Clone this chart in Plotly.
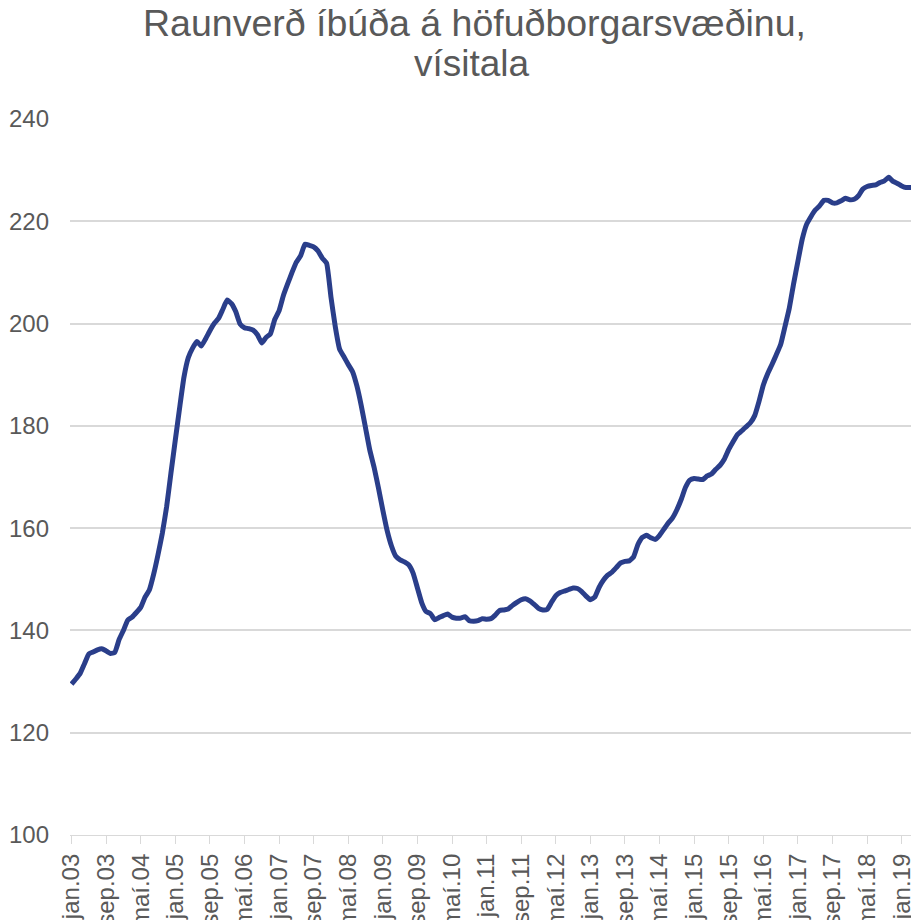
import plotly.graph_objects as go

month_names = ["jan", "feb", "mar", "apr", "maí", "jún", "júl", "ágú", "sep", "okt", "nóv", "des"]
start_year = 2003
n_months = 197

values = [
    # 2003
    129.5, 130.5, 131.6, 133.5, 135.4, 135.8, 136.2, 136.4, 136.0, 135.5, 135.7, 138.2,
    # 2004
    140.0, 142.0, 142.6, 143.5, 144.5, 146.5, 147.9, 151.0, 154.8, 159.0, 164.2, 170.8,
    # 2005
    177.2, 183.5, 189.5, 193.3, 195.2, 196.5, 195.6, 197.0, 198.6, 200.0, 201.0, 202.8,
    # 2006
    204.6, 203.9, 202.3, 199.9, 199.2, 199.0, 198.7, 197.8, 196.2, 197.3, 198.0, 200.8,
    # 2007
    202.5, 205.5, 207.8, 210.0, 212.0, 213.3, 215.5, 215.3, 215.0, 214.2, 212.8, 211.8,
    # 2008
    205.2, 199.4, 195.0, 193.5, 192.0, 190.6, 187.8, 184.0, 179.6, 175.2, 171.8, 167.8,
    # 2009
    163.5, 159.5, 156.5, 154.5, 153.8, 153.4, 152.8, 151.2, 148.3, 145.4, 143.7, 143.3,
    # 2010
    142.1, 142.5, 142.9, 143.2, 142.6, 142.4, 142.4, 142.7, 141.9, 141.8, 141.9, 142.3,
    # 2011
    142.2, 142.3, 143.0, 143.9, 144.0, 144.2, 144.9, 145.5, 146.0, 146.2, 145.8, 145.1,
    # 2012
    144.3, 144.0, 144.1, 145.5, 146.8, 147.4, 147.7, 148.0, 148.3, 148.2, 147.6, 146.7,
    # 2013
    146.0, 146.5, 148.4, 149.8, 150.8, 151.4, 152.3, 153.2, 153.5, 153.6, 154.4, 156.8,
    # 2014
    158.2, 158.6, 158.1, 157.8, 158.6, 159.8, 161.0, 162.0, 163.6, 165.6, 168.0, 169.4,
    # 2015
    169.7, 169.6, 169.5, 170.2, 170.6, 171.5, 172.3, 173.5, 175.4, 176.9, 178.3, 179.0,
    # 2016
    179.8, 180.6, 182.0, 184.8, 188.0, 190.2, 192.0, 193.9, 195.9, 199.4, 203.0, 207.8,
    # 2017
    212.2, 216.5, 219.4, 220.9, 222.2, 223.0, 224.1, 224.1, 223.6, 223.6, 224.0, 224.5,
    # 2018
    224.2, 224.3, 225.0, 226.3, 226.8, 227.0, 227.1, 227.6, 227.9, 228.6, 227.8, 227.4,
    # 2019
    226.9, 226.6, 226.6, 226.6, 226.9,
]

categories = [f"{month_names[i % 12]}.{(start_year + i // 12) % 100:02d}" for i in range(n_months)]
x_index = list(range(n_months))
tick_step = 8
tick_vals = x_index[::tick_step]
tick_text = categories[::tick_step]

y_ticks = [100, 120, 140, 160, 180, 200, 220, 240]

title_line1 = "Raunverð íbúða á höfuðborgarsvæðinu,"
title_line2 = "vísitala"

FONT = "Liberation Sans, Arial, sans-serif"
GREY = "#595959"

fig = go.Figure()
fig.add_trace(go.Scatter(
    x=x_index, y=values, mode="lines",
    line=dict(color="#2A3E8A", width=5, shape="spline", smoothing=0.4),
    customdata=categories,
    hovertemplate="%{customdata}: %{y}<extra></extra>",
    showlegend=False,
))

fig.update_layout(
    width=911, height=912,
    margin=dict(l=62, r=0, t=111, b=85, autoexpand=False),
    paper_bgcolor="white", plot_bgcolor="white",
    font=dict(family=FONT, color=GREY, size=24),
    xaxis=dict(
        range=[-0.35, 196.0], automargin=False,
        tickmode="array", tickvals=tick_vals, ticktext=tick_text,
        tickangle=-90, tickfont=dict(size=24, color=GREY, family=FONT),
        ticks="outside", ticklen=8, tickcolor="#d9d9d9", tickwidth=1.3,
        showgrid=False, showline=True, linecolor="#d9d9d9", linewidth=1.3,
        zeroline=False, fixedrange=True,
    ),
    yaxis=dict(
        range=[100, 240], automargin=False,
        tickmode="array", tickvals=y_ticks,
        tickfont=dict(size=24, color=GREY, family=FONT),
        showgrid=True, gridcolor="#d9d9d9", gridwidth=1.5,
        showline=False, zeroline=False, ticks="", ticklabelstandoff=20,
        fixedrange=True,
    ),
    annotations=[
        dict(text=title_line1, xref="paper", yref="paper", x=0.4759, y=1.1346,
             xanchor="center", yanchor="middle", showarrow=False,
             font=dict(size=37.5, color=GREY, family=FONT)),
        dict(text=title_line2, xref="paper", yref="paper", x=0.473, y=1.0782,
             xanchor="center", yanchor="middle", showarrow=False,
             font=dict(size=37, color=GREY, family=FONT)),
    ],
)

fig.write_html("out.html")
